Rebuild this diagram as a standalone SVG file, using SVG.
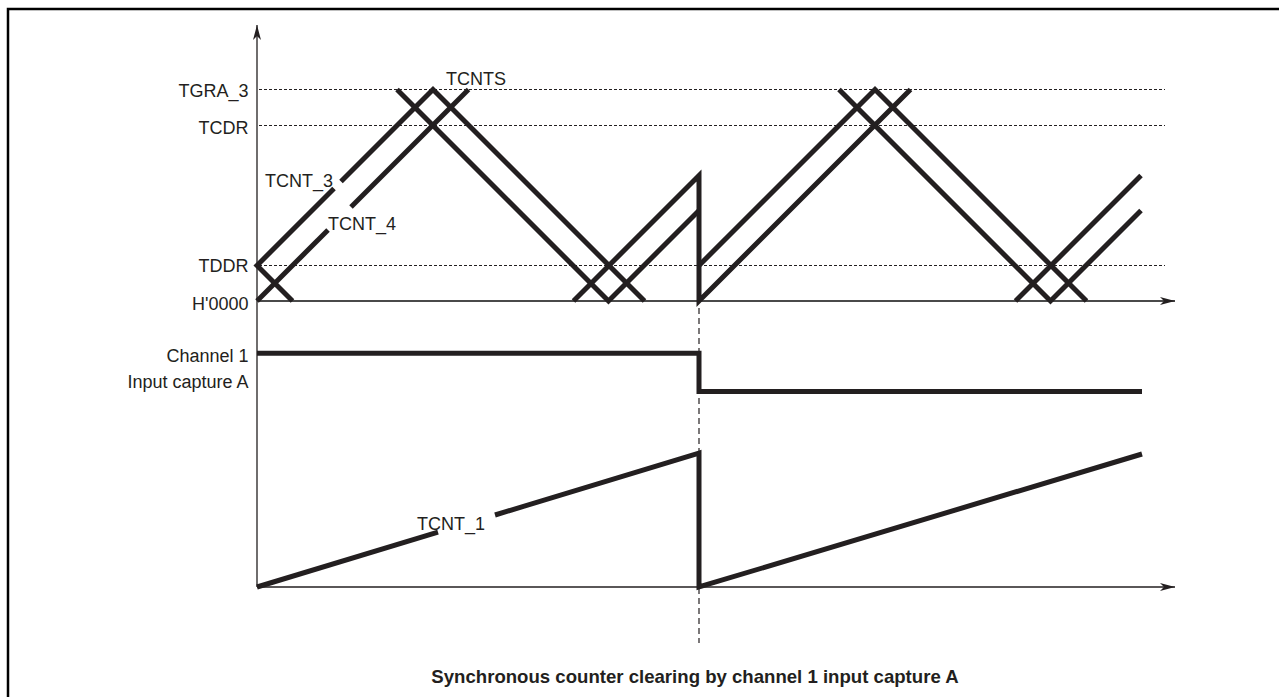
<svg xmlns="http://www.w3.org/2000/svg" width="1279" height="697" viewBox="0 0 1279 697">
  <style>
    .lbl { font-family: "Liberation Sans", Arial, sans-serif; font-size: 18px; fill: #231f20; }
    .r { text-anchor: end; }
    .cap { font-family: "Liberation Sans", Arial, sans-serif; font-size: 18.6px; font-weight: bold; fill: #231f20; text-anchor: middle; }
    .wave { fill: none; stroke: #231f20; stroke-width: 5; stroke-linejoin: miter; stroke-linecap: butt; }
    .dot { stroke: #231f20; stroke-width: 1.2; stroke-dasharray: 3 2; fill: none; }
    .axis { stroke: #231f20; stroke-width: 1.3; fill: none; }
  </style>
  <defs>
    <marker id="arr" markerUnits="userSpaceOnUse" markerWidth="16" markerHeight="10" refX="15" refY="5" orient="auto">
      <path d="M0,1 L15,5 L0,9 L4,5 Z" fill="#231f20"/>
    </marker>
  </defs>
  <rect width="1279" height="697" fill="#ffffff"/>

  <g id="frame">
    <path d="M8,697 L8,9 L1279,9" fill="none" stroke="#000" stroke-width="2.5"/>
  </g>

  <g id="axes">
    <line class="axis" x1="257" y1="587" x2="257" y2="25" marker-end="url(#arr)"/>
    <line x1="257" y1="301" x2="1175" y2="301" stroke="#4a4a4a" stroke-width="1.8" marker-end="url(#arr)"/>
    <line class="axis" x1="257" y1="587" x2="1175" y2="587" marker-end="url(#arr)"/>
  </g>

  <g id="levels">
    <line class="dot" x1="259" y1="89.5" x2="1165" y2="89.5"/>
    <line class="dot" x1="259" y1="125.5" x2="1165" y2="125.5"/>
    <line class="dot" x1="259" y1="265.5" x2="1165" y2="265.5"/>
    <line x1="699" y1="308" x2="699" y2="643" stroke="#231f20" stroke-width="1.2" stroke-dasharray="6 4"/>
  </g>

  <g id="connectors">
    <!-- TCNT_3 first cycle -->
    <path class="wave" d="M292.5,301 L257,265.5 L334,188.5"/>
    <path class="wave" d="M341,181.5 L433,89.5 L644.5,301"/>
    <!-- TCNT_4 first rise / TCNTS -->
    <path class="wave" d="M257,301 L328,230"/>
    <path class="wave" d="M351,207 L468.5,89.5"/>
    <path class="wave" d="M397,89.5 L608.5,301 L699,210.5"/>
    <path class="wave" d="M573.5,301 L699,175.5 L699,301 L910.5,89.5"/>
    <!-- second cycle -->
    <path class="wave" d="M699,265.5 L875,89.5 L1086.5,301"/>
    <path class="wave" d="M839,89.5 L1050.5,301 L1141,210.5"/>
    <path class="wave" d="M1015.5,301 L1141,175.5"/>
    <!-- Channel 1 input capture A -->
    <path class="wave" d="M257,353.3 L699,353.3 L699,391.5 L1142,391.5"/>
    <!-- TCNT_1 -->
    <path class="wave" d="M257,587 L438,532.2"/>
    <path class="wave" d="M495,515 L699,453 L699,587 L1142,454"/>
  </g>

  <g id="labels">
    <text class="lbl r" x="248.5" y="96.5">TGRA_3</text>
    <text class="lbl r" x="248.5" y="133.5">TCDR</text>
    <text class="lbl r" x="248.5" y="272">TDDR</text>
    <text class="lbl r" x="248.5" y="309.5">H'0000</text>
    <text class="lbl" x="446" y="85">TCNTS</text>
    <text class="lbl" x="265" y="187">TCNT_3</text>
    <text class="lbl" x="328" y="230">TCNT_4</text>
    <text class="lbl r" x="248.5" y="361.5">Channel 1</text>
    <text class="lbl r" x="248.5" y="387.5">Input capture A</text>
    <text class="lbl" x="417" y="529.5">TCNT_1</text>
    <text class="cap" x="695" y="683">Synchronous counter clearing by channel 1 input capture A</text>
  </g>
</svg>
